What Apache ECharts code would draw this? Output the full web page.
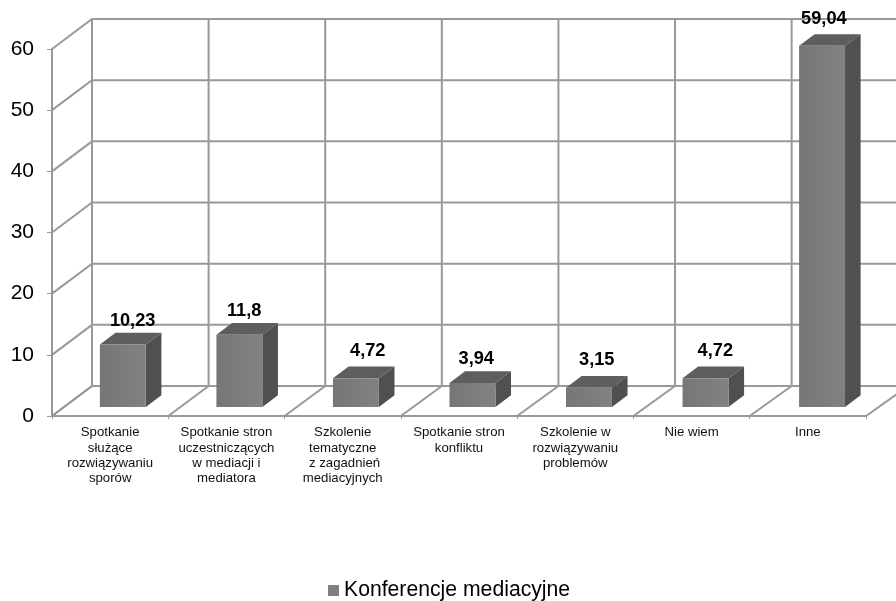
<!DOCTYPE html>
<html>
<head>
<meta charset="utf-8">
<style>html,body{margin:0;padding:0;background:#fff}#chart{width:896px;height:601px}</style>
<script src="https://cdn.jsdelivr.net/npm/echarts@6/dist/echarts.min.js"></script>
</head>
<body>
<div id="chart"></div>
<script>
// Kategorie i wartości wykresu
const categories = [
  'Spotkanie\nsłużące\nrozwiązywaniu\nsporów',
  'Spotkanie stron\nuczestniczących\nw mediacji i\nmediatora',
  'Szkolenie\ntematyczne\n z zagadnień\nmediacyjnych',
  'Spotkanie stron\nkonfliktu',
  'Szkolenie w\nrozwiązywaniu\nproblemów',
  'Nie wiem',
  'Inne'
];
const values = [10.23, 11.8, 4.72, 3.94, 3.15, 4.72, 59.04];
const valueTexts = ['10,23', '11,8', '4,72', '3,94', '3,15', '4,72', '59,04'];
const yTicks = [0, 10, 20, 30, 40, 50, 60];
const seriesName = 'Konferencje mediacyjne';

// Rzut ukośny: przesunięcie tylnej ściany względem płaszczyzny osi
const DEPTH_X = 40, DEPTH_Y = 30;
const BACK_STRETCH = 0.32;   // tylna ściana jest minimalnie szersza od przedniej krawędzi
const BAR_STRETCH = 0.25, BAR_SHIFT = 0.7;
const BAR_NEAR = 0.3, BAR_FAR = 0.69, BAR_WIDTH = 0.395;
const LINE = { stroke: '#999999', lineWidth: 2, fill: null };
// Ręczne przesunięcia etykiet wartości [dx, dy]
const labelNudge = [[2, -12], [-3, -12], [4, -15], [-4, -12], [0, -16], [2, -15], [-6, -15]];

function wallRows(params, api) {
  const p = api.coord([0, api.value(1)]);
  const band = api.size([1, 0])[0];
  const left = p[0] - band / 2;
  const right = left + band * 8;
  return {
    type: 'polyline',
    shape: { points: [[left, p[1]], [left + DEPTH_X, p[1] - DEPTH_Y], [right + DEPTH_X, p[1] - DEPTH_Y]] },
    style: LINE
  };
}

function wallColumns(params, api) {
  const base = api.coord([0, 0]);
  const top = api.coord([0, 60]);
  const band = api.size([1, 0])[0];
  const n = api.value(2);
  const x = base[0] - band / 2 + band * n;
  const backX = x + DEPTH_X + BACK_STRETCH * n;
  return {
    type: 'polyline',
    shape: { points: [[x, base[1]], [backX, base[1] - DEPTH_Y], [backX, top[1] - DEPTH_Y]] },
    style: LINE
  };
}

function box(params, api) {
  const i = params.dataIndex;
  const base = api.coord([api.value(0), 0]);
  const head = api.coord([api.value(0), api.value(1)]);
  const band = api.size([1, 0])[0];
  const w = band * BAR_WIDTH;
  const x0 = base[0] - w / 2 + DEPTH_X * BAR_NEAR + BAR_SHIFT + BAR_STRETCH * i;
  const x1 = x0 + w;
  const yb = base[1] - DEPTH_Y * BAR_NEAR;
  const yt = head[1] - DEPTH_Y * BAR_NEAR;
  const dx = DEPTH_X * (BAR_FAR - BAR_NEAR);
  const dy = DEPTH_Y * (BAR_FAR - BAR_NEAR);
  const nudge = labelNudge[i];
  return {
    type: 'group',
    children: [
      { type: 'polygon', shape: { points: [[x1, yt], [x1 + dx, yt - dy], [x1 + dx, yb - dy], [x1, yb]] }, style: { fill: '#505050' } },
      { type: 'polygon', shape: { points: [[x0, yt], [x0 + dx, yt - dy], [x1 + dx, yt - dy], [x1, yt]] }, style: { fill: '#5e5e5e' } },
      { type: 'rect', shape: { x: x0, y: yt, width: w, height: yb - yt },
        style: { fill: { type: 'linear', x: 0, y: 0, x2: 1, y2: 0, colorStops: [{ offset: 0, color: '#767676' }, { offset: 1, color: '#828282' }] } } },
      { type: 'text', style: {
          text: valueTexts[i], x: (x0 + x1 + dx) / 2 + nudge[0], y: yt - dy + nudge[1],
          align: 'center', verticalAlign: 'middle', fill: '#000',
          font: 'bold 18.2px "Liberation Sans", Arial, sans-serif' } }
    ]
  };
}

const chart = echarts.init(document.getElementById('chart'), null, { renderer: 'canvas' });
chart.setOption({
  animation: false,
  backgroundColor: '#fff',
  grid: { left: 52, right: 30, top: 49, bottom: 185 },
  legend: {
    data: [{ name: seriesName, icon: 'rect' }],
    left: 323, top: 575, itemWidth: 11, itemHeight: 11, itemGap: 4,
    textStyle: { fontFamily: '"Liberation Sans", Arial, sans-serif', fontSize: 21.2, color: '#000' }
  },
  xAxis: {
    type: 'category',
    data: categories,
    axisLine: { lineStyle: { color: '#999999', width: 2 } },
    axisTick: { show: true, length: 3, lineStyle: { color: '#999999', width: 1 } },
    axisLabel: {
      interval: 0, margin: 9, lineHeight: 15.3, color: '#111',
      fontFamily: '"Liberation Sans", Arial, sans-serif', fontSize: 13.2
    }
  },
  yAxis: {
    type: 'value', min: 0, max: 60, interval: 10,
    splitLine: { show: false },
    axisLine: { show: true, lineStyle: { color: '#999999', width: 2 } },
    axisTick: { show: true, length: 5, lineStyle: { color: '#999999', width: 1 } },
    axisLabel: { margin: 18, color: '#000', fontFamily: '"Liberation Sans", Arial, sans-serif', fontSize: 21 }
  },
  series: [
    { type: 'custom', name: 'rows', silent: true, z: 1, clip: false, renderItem: wallRows,
      encode: { x: 0, y: 1 }, data: yTicks.map(v => [0, v]) },
    { type: 'custom', name: 'columns', silent: true, z: 1, clip: false, renderItem: wallColumns,
      encode: { x: 0, y: 1 }, data: [0, 1, 2, 3, 4, 5, 6, 7, 8].map(n => [0, 0, n]) },
    { type: 'custom', name: seriesName, z: 3, clip: false, renderItem: box,
      itemStyle: { color: '#808080' },
      encode: { x: 0, y: 1 }, data: values.map((v, i) => [i, v]) }
  ]
});
</script>
</body>
</html>
